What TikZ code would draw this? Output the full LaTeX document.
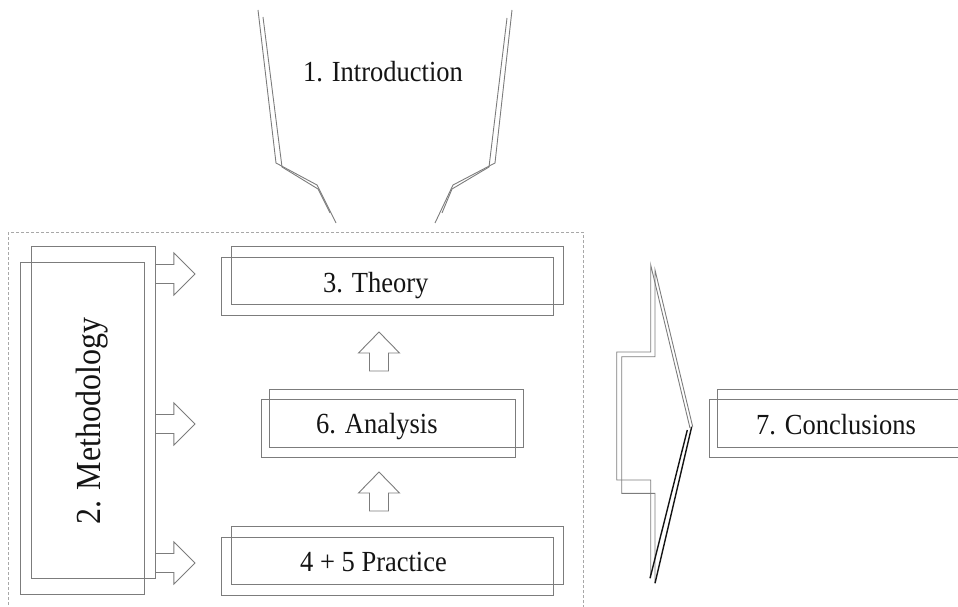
\documentclass[tikz,border=0pt]{standalone}
\usepackage{fontspec}
\setmainfont{Liberation Serif}
\definecolor{edgegray}{HTML}{7C7C7C}
\definecolor{framegray}{HTML}{A8A8A8}
\definecolor{inkblack}{HTML}{141414}
\begin{document}
\begin{tikzpicture}[x=1pt,y=-1pt,
  outline/.style={draw=edgegray,line width=0.9pt},
  heavy/.style={draw=inkblack,line width=1.6pt},
  frame/.style={draw=framegray,line width=0.8pt,dash pattern=on 3pt off 2pt},
  boxrect/.style={outline,rectangle,inner sep=0pt,anchor=north west},
  lbl/.style={inner sep=0pt,anchor=base west,text=inkblack,font=\fontsize{26.5}{30}\selectfont},
  rarrow/.pic={\draw[outline] (0,-9.5) -- (18,-9.5) -- (18,-21) -- (39,0) -- (18,21) -- (18,9.5) -- (0,9.5);},
  uarrow/.pic={\draw[outline] (0,0) -- (20.5,21) -- (9.5,21) -- (9.5,39) -- (-9.5,39) -- (-9.5,21) -- (-20.5,21) -- cycle;}]
\useasboundingbox (0,0) rectangle (958,607);
\clip (0,0) rectangle (958,607);

% funnel above the frame
\draw[outline] (258,10) -- (276,163) -- (317,185) -- (336,223);
\draw[outline] (263,17) -- (282,167) -- (318,189) -- (330,213);
\draw[outline] (512,10) -- (495,163) -- (453,185) -- (435,223);
\draw[outline] (507,18) -- (489,167) -- (452,189) -- (442,213);
\node[lbl] (intro) at (303,82) {\scalebox{1}[1.1]{1. Introduction}};

% dashed frame
\draw[frame] (8,232) rectangle (583,620);

% methodology column
\node[boxrect,minimum width=124pt,minimum height=332pt] (methA) at (31,246) {};
\node[boxrect,minimum width=124pt,minimum height=332pt] (methB) at (20,262) {};
\node[lbl,rotate=90] (meth) at (100,525) {\fontsize{32}{36}\selectfont\scalebox{1}[1.1]{2. Methodology}};

% theory
\node[boxrect,minimum width=332pt,minimum height=58pt] (theoA) at (231,246) {};
\node[boxrect,minimum width=332pt,minimum height=58pt] (theoB) at (221,257) {};
\node[lbl] (theory) at (323,292) {\scalebox{1}[1.1]{3. Theory}};

% analysis
\node[boxrect,minimum width=254pt,minimum height=58pt] (anaA) at (269,389) {};
\node[boxrect,minimum width=254pt,minimum height=58pt] (anaB) at (261,399) {};
\node[lbl] (analysis) at (316,433) {\scalebox{1}[1.1]{6. Analysis}};

% practice
\node[boxrect,minimum width=332pt,minimum height=58pt] (pracA) at (231,526) {};
\node[boxrect,minimum width=332pt,minimum height=58pt] (pracB) at (221,537) {};
\node[lbl] (practice) at (300,571) {\scalebox{1}[1.1]{4 + 5 Practice}};

% conclusions
\node[boxrect,minimum width=260pt,minimum height=58pt] (concA) at (717,389) {};
\node[boxrect,minimum width=260pt,minimum height=58pt] (concB) at (709,399) {};
\node[lbl] (conclusions) at (756,434) {\scalebox{1}[1.1]{7. Conclusions}};

% block arrows from methodology
\coordinate (rA) at (methA.east |- 0,274);
\coordinate (rB) at (methA.east |- 0,424);
\coordinate (rC) at (methA.east |- 0,563);
\pic at (rA) {rarrow};
\pic at (rB) {rarrow};
\pic at (rC) {rarrow};

% upward block arrows
\coordinate (uA) at (379,332);
\coordinate (uB) at (379,472);
\pic at (uA) {uarrow};
\pic at (uB) {uarrow};

% large arrow towards the conclusions
\draw[outline] (690,428) -- (650.7,265) -- (650.7,352) -- (616.7,352) -- (616.7,480) -- (650.7,480) -- (650.7,578);
\draw[outline] (692.7,426.7) -- (655,270) -- (655,356.7) -- (621.7,356.7) -- (621.7,493.3) -- (655,493.3) -- (655,583);
\draw[heavy,line width=1.4pt] (687.3,430) -- (650,578.3);
\draw[heavy,line width=1.4pt] (691.7,426.7) -- (655,583.3);
\end{tikzpicture}
\end{document}
